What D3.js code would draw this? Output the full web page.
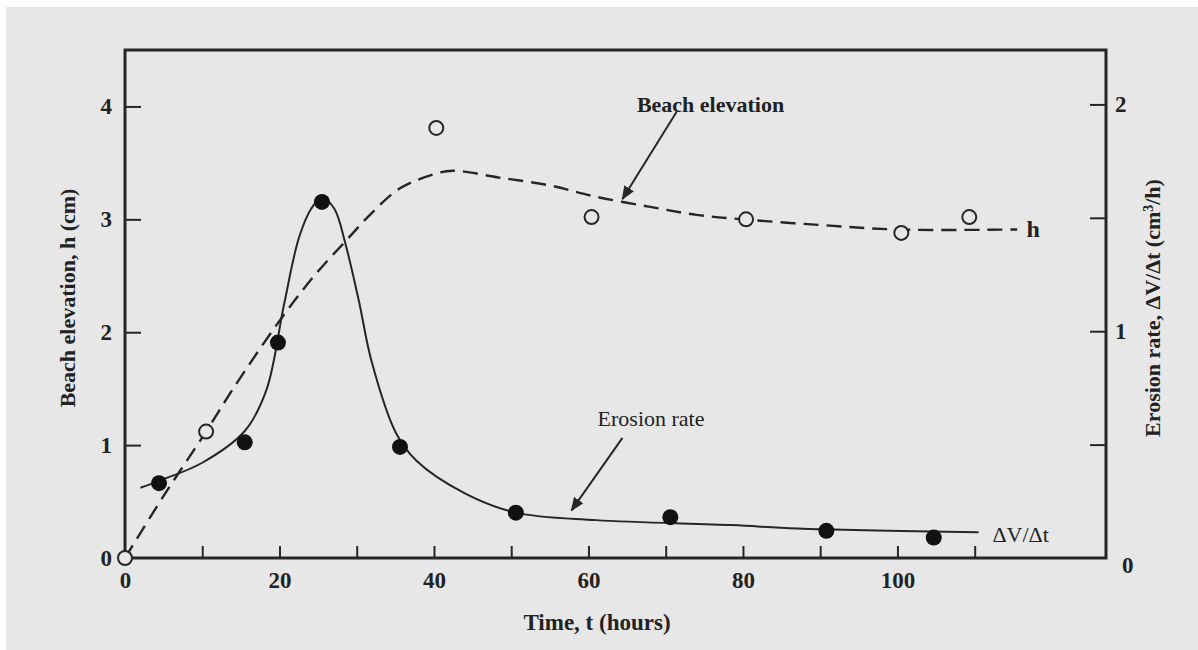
<!DOCTYPE html>
<html>
<head>
<meta charset="utf-8">
<script src="https://cdn.jsdelivr.net/npm/d3@7"></script>
<style>
	body { margin: 0; background: #ffffff; }
	svg { display: block; }
	text { font-family: "Liberation Serif", "DejaVu Serif", serif; fill: #222; }
</style>
</head>
<body>
<svg width="1198" height="650"></svg>
<script>
// Time (hours) of the measured points
const beachTimes   = [0, 10.5, 40.3, 60.4, 80.4, 100.5, 109.3];
const beachValues  = [0, 1.12, 3.81, 3.02, 3.0, 2.88, 3.02];		// h (cm), left axis

const erosionTimes  = [4.4, 15.5, 19.8, 25.5, 35.6, 50.6, 70.6, 90.8, 104.7];
const erosionValues = [0.33, 0.51, 0.95, 1.57, 0.49, 0.2, 0.18, 0.12, 0.09];	// cm3/h, right axis

// The hand drawn fitted curves
const beachFitTimes  = [0, 5, 10.5, 14, 20, 24.5, 28.6, 32, 35.5, 40, 42.5, 48.4, 55, 61, 68, 74, 80, 90, 100, 115.5];
const beachFitValues = [0, 0.55, 1.12, 1.5, 2.1, 2.5, 2.81, 3.06, 3.27, 3.4, 3.43, 3.37, 3.3, 3.2, 3.11, 3.04, 3.0, 2.95, 2.91, 2.91];

const erosionFitTimes  = [2, 4.4, 10, 15.5, 18.3, 20.6, 22.5, 24.1, 25.5, 27.1, 28.5, 30.3, 31.9, 35.1, 37.7, 44, 50.6, 61, 78.6, 87, 110.5];
const erosionFitValues = [0.31, 0.34, 0.42, 0.56, 0.74, 1.12, 1.41, 1.54, 1.59, 1.54, 1.39, 1.13, 0.87, 0.55, 0.43, 0.285, 0.2, 0.167, 0.145, 0.13, 0.114];

// Axis ticks
const timeTicks   = [0, 10, 20, 30, 40, 50, 60, 70, 80, 90, 100, 110];
const leftTicks   = [0, 1, 2, 3, 4];
const rightTicks  = [0, 0.5, 1, 1.5, 2];

const ink = "#262626";

function renderChart() {
	const svg = d3.select("svg");

	// Page (scanned paper look)
	svg.append("rect")
	   .attr("x", 6).attr("y", 7)
	   .attr("width", 1192).attr("height", 643)
	   .attr("fill", "#e7e7e7");

	const xScale = d3.scaleLinear().domain([0, 127]).range([125, 1106]);
	const yLeft  = d3.scaleLinear().domain([0, 4.5]).range([558, 50]);
	const yRight = d3.scaleLinear().domain([0, 2.24]).range([558, 50]);

	renderAxes(svg, xScale, yLeft, yRight);
	renderCurves(svg, xScale, yLeft, yRight);
	renderLabels(svg, xScale, yLeft, yRight);
}

function renderAxes(svg, xScale, yLeft, yRight) {
	// Plot frame
	svg.append("rect")
	   .attr("x", 125).attr("y", 50)
	   .attr("width", 1106 - 125).attr("height", 558 - 50)
	   .attr("fill", "none")
	   .attr("stroke", ink)
	   .attr("stroke-width", 3);

	const xAxis = d3.axisBottom(xScale)
					.tickValues(timeTicks)
					.tickSizeInner(-12).tickSizeOuter(0).tickPadding(14)
					.tickFormat(d => d % 20 === 0 ? d : "");

	const leftAxis = d3.axisLeft(yLeft)
					   .tickValues(leftTicks)
					   .tickSizeInner(-16).tickSizeOuter(0).tickPadding(13)
					   .tickFormat(d3.format("d"));

	const rightAxis = d3.axisRight(yRight)
						.tickValues(rightTicks)
						.tickSizeInner(-16).tickSizeOuter(0).tickPadding(9)
						.tickFormat(d => Number.isInteger(d) ? d : "");

	const gx = svg.append("g").attr("transform", "translate(0,558)").call(xAxis);
	const gl = svg.append("g").attr("transform", "translate(125,0)").call(leftAxis);
	const gr = svg.append("g").attr("transform", "translate(1106,0)").call(rightAxis);

	[gx, gl, gr].forEach(g => {
		g.select(".domain").remove();		// the frame is drawn already
		g.selectAll("line").attr("stroke", ink).attr("stroke-width", 2);
		g.selectAll("text")
		 .attr("fill", "#222")
		 .style("font-family", "'Liberation Serif', serif")
		 .style("font-size", "23px")
		 .style("font-weight", "bold");
	});
	// No tick drawn in the corner
	gx.selectAll(".tick").filter(d => d === 0).select("line").remove();
	gl.selectAll(".tick").filter(d => d === 0).select("line").remove();
	gr.selectAll(".tick").filter(d => d === 0).select("line").remove();
	// the right zero sits a little lower and further out, as in the print
	gr.selectAll(".tick").filter(d => d === 0).select("text").attr("x", 16).attr("dy", "0.62em");
}

function renderCurves(svg, xScale, yLeft, yRight) {
	const beachFit = beachFitTimes.map((t, i) => [t, beachFitValues[i]]);
	const erosionFit = erosionFitTimes.map((t, i) => [t, erosionFitValues[i]]);

	const beachLine = d3.line()
						.x(d => xScale(d[0]))
						.y(d => yLeft(d[1]))
						.curve(d3.curveCatmullRom.alpha(0.5));

	const erosionLine = d3.line()
						  .x(d => xScale(d[0]))
						  .y(d => yRight(d[1]))
						  .curve(d3.curveCatmullRom.alpha(0.5));

	svg.append("path")
	   .attr("d", erosionLine(erosionFit))
	   .attr("fill", "none")
	   .attr("stroke", ink)
	   .attr("stroke-width", 2);

	svg.append("path")
	   .attr("d", beachLine(beachFit))
	   .attr("fill", "none")
	   .attr("stroke", ink)
	   .attr("stroke-width", 2.4)
	   .attr("stroke-dasharray", "15,8");

	// Filled points: erosion rate
	svg.selectAll("circle.erosion")
	   .data(erosionTimes)
	   .enter()
	   .append("circle")
	   .attr("class", "erosion")
	   .attr("cx", d => xScale(d))
	   .attr("cy", (d, i) => yRight(erosionValues[i]))
	   .attr("r", 8)
	   .attr("fill", "#111");

	// Open points: beach elevation
	svg.selectAll("circle.beach")
	   .data(beachTimes)
	   .enter()
	   .append("circle")
	   .attr("class", "beach")
	   .attr("cx", d => xScale(d))
	   .attr("cy", (d, i) => yLeft(beachValues[i]))
	   .attr("r", 7)
	   .attr("fill", "#e7e7e7")
	   .attr("stroke", ink)
	   .attr("stroke-width", 2);
}

function renderLabels(svg, xScale, yLeft, yRight) {
	svg.append("defs").append("marker")
	   .attr("id", "head")
	   .attr("viewBox", "0 0 10 10")
	   .attr("refX", 9).attr("refY", 5)
	   .attr("markerWidth", 7).attr("markerHeight", 7)
	   .attr("markerUnits", "strokeWidth")
	   .attr("orient", "auto")
	   .append("path")
	   .attr("d", "M0,1 L10,5 L0,9 Z")
	   .attr("fill", ink);

	// Annotation arrows, given in data units
	const arrows = [
		{ x1: xScale(71.4), y1: yLeft(3.95), x2: xScale(64.4), y2: yLeft(3.18) },
		{ x1: xScale(64.4), y1: yRight(0.53), x2: xScale(57.8), y2: yRight(0.21) }
	];
	svg.selectAll("line.arrow")
	   .data(arrows)
	   .enter()
	   .append("line")
	   .attr("class", "arrow")
	   .attr("x1", d => d.x1).attr("y1", d => d.y1)
	   .attr("x2", d => d.x2).attr("y2", d => d.y2)
	   .attr("stroke", ink)
	   .attr("stroke-width", 2)
	   .attr("marker-end", "url(#head)");

	svg.append("text")
	   .attr("x", xScale(75.8)).attr("y", yLeft(3.95))
	   .attr("text-anchor", "middle")
	   .style("font-size", "22px").style("font-weight", "bold")
	   .text("Beach elevation");

	svg.append("text")
	   .attr("x", xScale(68.1)).attr("y", yRight(0.58))
	   .attr("text-anchor", "middle")
	   .style("font-size", "22px")
	   .text("Erosion rate");

	svg.append("text")
	   .attr("x", xScale(112.3)).attr("y", yRight(0.07))
	   .style("font-size", "22px")
	   .text("ΔV/Δt");

	svg.append("text")
	   .attr("x", xScale(116.7)).attr("y", yLeft(2.84))
	   .style("font-size", "24px").style("font-weight", "bold")
	   .text("h");

	// Axis titles
	svg.append("text")
	   .attr("x", 597).attr("y", 630)
	   .attr("text-anchor", "middle")
	   .style("font-size", "23px").style("font-weight", "bold")
	   .text("Time, t (hours)");

	svg.append("text")
	   .attr("transform", "translate(75,298) rotate(-90)")
	   .attr("text-anchor", "middle")
	   .style("font-size", "22px").style("font-weight", "bold")
	   .text("Beach elevation, h (cm)");

	const rt = svg.append("text")
				  .attr("transform", "translate(1160,308) rotate(-90)")
				  .attr("text-anchor", "middle")
				  .style("font-size", "22px").style("font-weight", "bold");
	rt.append("tspan").text("Erosion rate, ΔV/Δt (cm");
	rt.append("tspan").attr("dy", -7).style("font-size", "14px").text("3");
	rt.append("tspan").attr("dy", 7).text("/h)");
}

document.addEventListener("DOMContentLoaded", renderChart);
</script>
</body>
</html>
